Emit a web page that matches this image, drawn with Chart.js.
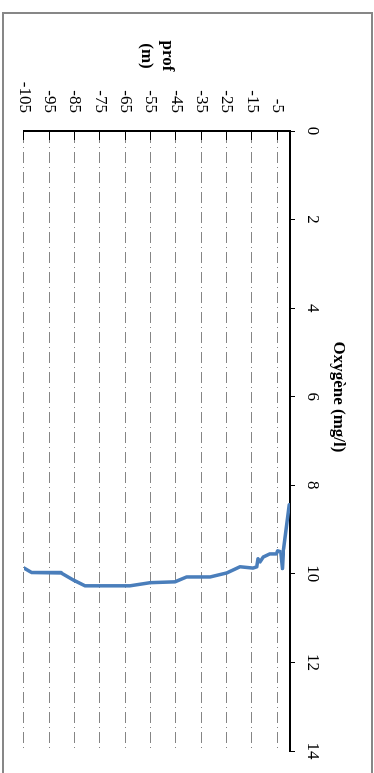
<!DOCTYPE html>
<html>
<head>
<meta charset="utf-8">
<script src="https://cdn.jsdelivr.net/npm/chart.js@4/dist/chart.umd.min.js"></script>
<style>
  html, body { margin: 0; padding: 0; background: #fff; overflow: hidden; }
  #wrap {
    position: absolute; left: 0; top: 0;
    width: 773px; height: 374px;
    transform-origin: 0 0;
    transform: translate(374px, 0) rotate(90deg);
    background: #fff;
  }
</style>
</head>
<body>
<div id="wrap"><canvas id="chart" width="773" height="374"></canvas></div>
<script>
// profile data
const depth = [-0.3, -2.6, -3, -3.7, -4.9, -5.4, -8, -10.6, -11.8, -12.6, -13.1, -14.6, -19.7, -25, -31.5, -40.8, -45.4, -55.3, -63.2, -80.9, -85.5, -90.3, -102, -105];
const oxygen = [8.44, 9.45, 9.88, 9.5, 9.48, 9.55, 9.55, 9.62, 9.73, 9.66, 9.84, 9.87, 9.84, 9.98, 10.07, 10.07, 10.18, 10.2, 10.27, 10.27, 10.14, 9.98, 9.97, 9.87];

const depthTicks = [-105, -95, -85, -75, -65, -55, -45, -35, -25, -15, -5];
const oxygenTicks = [0, 2, 4, 6, 8, 10, 12, 14];

const serif = "'Liberation Serif', 'Times New Roman', serif";

// frame + horizontal y-axis title
const extras = {
  id: 'extras',
  beforeDraw(chart) {
    const c = chart.ctx;
    c.save();
    c.fillStyle = '#fff';
    c.fillRect(0, 0, chart.width, chart.height);
    c.strokeStyle = '#878787';
    c.lineWidth = 2;
    c.strokeRect(13, 2, 770, 369);
    c.restore();
  },
  afterDraw(chart) {
    const c = chart.ctx;
    const y = chart.scales.y;
    const mid = (y.top + y.bottom) / 2;
    c.save();
    c.font = 'bold 17px ' + serif;
    c.fillStyle = '#000';
    c.textAlign = 'center';
    c.textBaseline = 'middle';
    c.fillText('prof', 56, mid - 10);
    c.fillText('(m)', 56, mid + 11);
    c.restore();
  }
};

new Chart(document.getElementById('chart'), {
  type: 'scatter',
  data: {
    datasets: [{
      data: depth.map((d, i) => ({ x: oxygen[i], y: d })),
      showLine: true,
      borderColor: '#4A7EBB',
      borderWidth: 3.5,
      borderJoinStyle: 'round',
      borderCapStyle: 'round',
      pointRadius: 0,
      tension: 0
    }]
  },
  options: {
    responsive: false,
    animation: false,
    layout: { padding: { left: 21, right: 0, top: 0, bottom: 24 } },
    plugins: {
      legend: { display: false },
      tooltip: { enabled: false },
      title: {
        display: true,
        text: 'Oxygène (mg/l)',
        color: '#000',
        font: { family: serif, size: 17, weight: 'bold' },
        padding: { top: 25, bottom: 0 }
      }
    },
    scales: {
      x: {
        type: 'linear',
        position: 'top',
        min: 0,
        max: 14,
        afterBuildTicks: s => { s.ticks = oxygenTicks.map(v => ({ value: v })); },
        afterFit: s => { s.height = 38.6; s.paddingRight = 22; },
        border: { display: true, color: '#000', width: 2 },
        grid: { drawOnChartArea: false, drawTicks: true, tickLength: 5, tickColor: '#000', tickWidth: 1 },
        ticks: { color: '#000', padding: 7, maxRotation: 0, font: { family: serif, size: 17 } }
      },
      y: {
        type: 'linear',
        position: 'left',
        min: -105,
        max: 0,
        afterBuildTicks: s => { s.ticks = depthTicks.map(v => ({ value: v })); },
        afterFit: s => { s.width = 110; s.paddingTop = 0; s.paddingBottom = 0; },
        // in v4 border.dash is what dashes the grid lines
        border: { display: true, color: '#000', width: 2, dash: [11, 4, 1, 4] },
        grid: {
          color: '#858585',
          lineWidth: 1,
          drawTicks: true,
          tickLength: -9,
          tickColor: '#000',
          tickWidth: 1,
          tickBorderDash: []
        },
        ticks: { color: '#000', padding: 27, font: { family: serif, size: 17 } }
      }
    }
  },
  plugins: [extras]
});
</script>
</body>
</html>
